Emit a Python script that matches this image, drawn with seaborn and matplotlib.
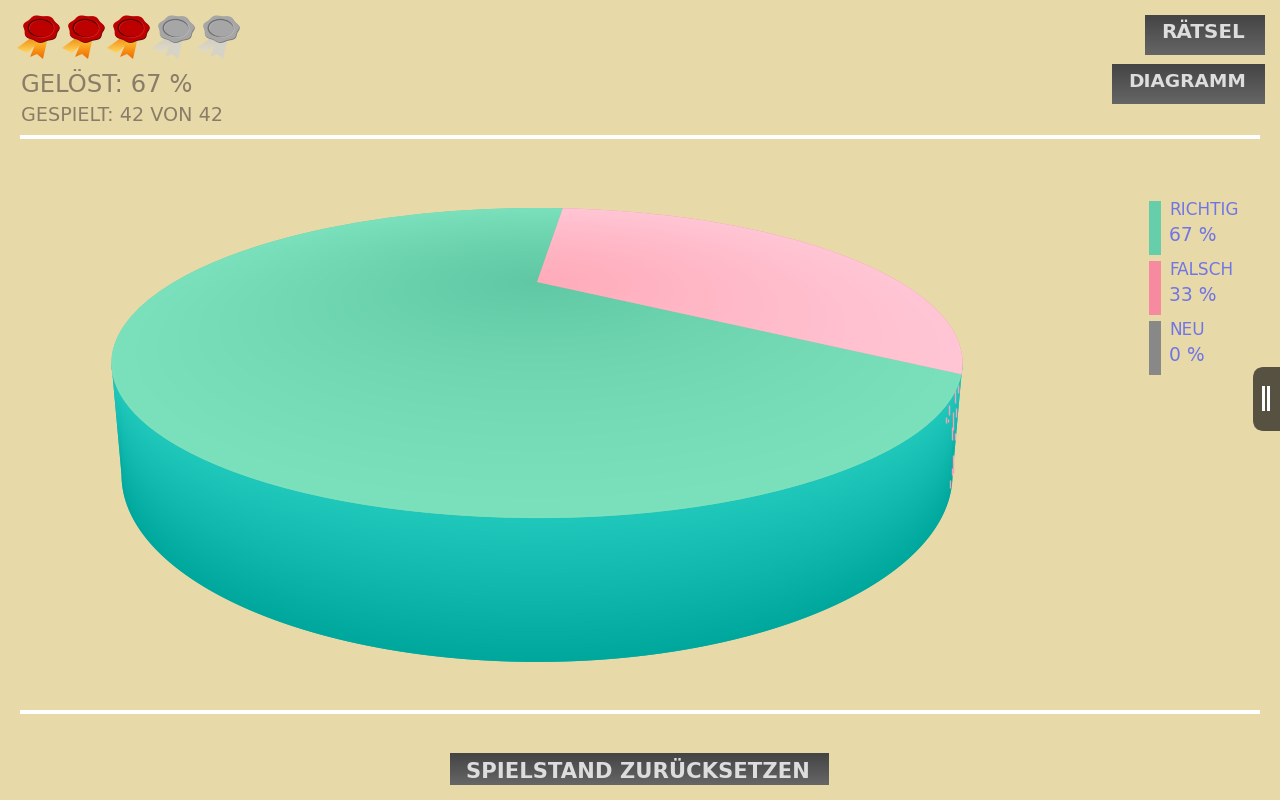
import numpy as np
import seaborn as sns
import matplotlib
matplotlib.use("Agg")
import matplotlib.pyplot as plt
from matplotlib.patches import Polygon, Rectangle, Ellipse, FancyBboxPatch
from matplotlib.transforms import Transform

# values
labels = ["Richtig", "Falsch", "Neu"]
shares = [67, 33, 0]
legend_colors = ["#66ceaa", "#f78aa0", "#888888"]
solved = 67
played = 42
total = 42
medals_total = 5
medals_won = 3
top_buttons = ["Rätsel", "Diagramm"]
reset_label = "Spielstand zurücksetzen"

BG = "#e8d9a8"
TXT = "#8a7d68"
LEG = "#6f75e6"

sns.set_theme(style="white")
plt.rcParams["font.family"] = ["DejaVu Sans"]

fig = plt.figure(figsize=(12.8, 8), dpi=100, facecolor=BG)
ax = fig.add_axes([0, 0, 1, 1])

# pie seen in strong perspective
cx = 537
tilt = 0.5226
top_plane = (66.4, 215.6, 362.8)
bottom_plane = (117.3, 260.0, 354.2)


def project(u, v, plane):
    w = 1 - tilt * v
    return cx + plane[2] * u / w, plane[0] + plane[1] / w


class Perspective(Transform):
    input_dims = 2
    output_dims = 2

    def __init__(self, plane):
        super().__init__()
        self.plane = plane

    def transform_non_affine(self, values):
        values = np.asarray(values)
        x, y = project(values[:, 0], -values[:, 1], self.plane)
        return np.column_stack([x, y])


wedges, _ = ax.pie(shares, startangle=-35.0, counterclock=False,
                   colors=legend_colors, wedgeprops={"linewidth": 0})
ax.set_aspect("auto")

# side wall
a0 = np.arcsin(tilt)
t = np.linspace(a0, np.pi - a0, 200)
bx, by = project(np.cos(t), np.sin(t), bottom_plane)
tx, ty = project(np.cos(t), np.sin(t), top_plane)
side = Polygon(np.column_stack([np.r_[bx, tx[::-1]], np.r_[by, ty[::-1]]]),
               fc="#10b5ab", lw=0, zorder=1)
ax.add_patch(side)


def gradient_fill(patch, c1, c2, y0, y1, x0=0, x1=1280, zorder=2):
    cmap = sns.blend_palette([c1, c2], as_cmap=True)
    im = ax.imshow(np.linspace(0, 1, 256).reshape(-1, 1), cmap=cmap, vmin=0, vmax=1,
                   extent=(x0, x1, y1, y0), aspect="auto", zorder=zorder)
    im.set_clip_path(patch)
    return im


# wall shade runs from the upper rim to the lower rim in each column
yy, xx = np.mgrid[0:800, 0:1280]
rim_top = np.interp(xx[0] + 0.5, tx[::-1], ty[::-1])
rim_bottom = np.interp(xx[0] + 0.5, bx[::-1], by[::-1])
wall = (yy + 0.5 - rim_top) / np.maximum(rim_bottom - rim_top, 40)
im = ax.imshow(np.clip(wall, 0, 1), cmap=sns.blend_palette(["#20c8bc", "#00a79d"], as_cmap=True),
               vmin=0, vmax=1, extent=(0, 1280, 800, 0), aspect="auto", zorder=2)
im.set_clip_path(side)

# little pink flecks where the wall meets the falsch slice
for fx, f0, f1 in [(955, 383, 403), (946, 417, 423), (948, 419, 422), (949, 405, 415),
                   (953, 412, 430), (952, 427, 440), (956, 408, 417), (958, 385, 393),
                   (953, 455, 473), (952, 468, 475), (950, 480, 488), (955, 433, 440)]:
    ax.plot([fx, fx], [f0, f1], color="#f3a3b4", lw=1, zorder=3, solid_capstyle="butt")

# top face, shade grows from the tip out to the rim
yt = np.maximum(yy + 0.5, 70)
vv = (1 - top_plane[1] / (yt - top_plane[0])) / tilt
uu = (xx + 0.5 - cx) * (1 - tilt * vv) / top_plane[2]
rr = np.clip(np.hypot(uu, vv), 0, 1)

top_colors = [("#60c8a4", "#7be1bc"), ("#ffabba", "#ffc6d5")]
for wedge, (inner, outer) in zip(wedges, top_colors):
    wedge.set_transform(Perspective(top_plane) + ax.transData)
    wedge.set_zorder(4)
    cmap = sns.blend_palette([inner, outer], as_cmap=True)
    im = ax.imshow(rr, cmap=cmap, vmin=0, vmax=1, extent=(0, 1280, 800, 0),
                   aspect="auto", zorder=5)
    im.set_clip_path(wedge)
wedges[2].set_visible(False)

# rules
for y in [136.5, 711.5]:
    ax.plot([20, 1260], [y, y], color="white", lw=2.9, solid_capstyle="butt", zorder=3)

# medals
for i in range(medals_total):
    mx = 41 + 45 * i
    won = i < medals_won
    left_c = ("#f08a10", "#ffd860") if won else ("#cfccc2", "#e2dcc4")
    right_c = ("#ffc030", "#f06a00") if won else ("#d6d3c8", "#d6d3c8")
    rib1 = Polygon([(mx - 9, 37), (mx - 24, 48), (mx - 14, 53), (mx - 2, 42)], lw=0, fc="none", zorder=6)
    rib2 = Polygon([(mx - 4, 40), (mx - 11, 57), (mx - 4, 54), (mx + 2, 59), (mx + 6, 41)], lw=0, fc="none", zorder=6)
    ax.add_patch(rib1)
    ax.add_patch(rib2)
    gradient_fill(rib1, left_c[0], left_c[1], 37, 53, zorder=6)
    gradient_fill(rib2, right_c[0], right_c[1], 40, 59, zorder=6)
    a = np.linspace(0, 2 * np.pi, 120)
    rad = 1 + 0.05 * np.cos(7 * a + 1)
    seal = np.column_stack([mx + 17.5 * rad * np.cos(a), 28.5 + 13 * rad * np.sin(a)])
    ax.add_patch(Polygon(seal + [0.5, 0.8], fc="#5a0a0a" if won else "#777777", lw=0, zorder=7))
    ax.add_patch(Polygon(seal, fc="#bd0000" if won else "#a6a6a6", lw=0, zorder=8))
    ax.add_patch(Ellipse((mx + 0.5, 28.5), 25, 17.5, fc="none", ec="#d82020" if won else "#b8b8b8", lw=1, zorder=9))
    ax.add_patch(Ellipse((mx - 0.5, 28), 24.5, 17, fc="none", ec="#5a0000" if won else "#707070", lw=1, zorder=9))
    ax.add_patch(Ellipse((mx + 1, 29), 23, 15.5, fc="#bd0000" if won else "#a6a6a6", lw=0, zorder=9))

# header text
ax.text(21, 92, f"GELÖST: {solved} %", color=TXT, fontsize=17.5, va="baseline", ha="left", zorder=10)
ax.text(21, 121, f"GESPIELT: {played} VON {total}", color=TXT, fontsize=13.8, va="baseline", ha="left", zorder=10)


def button(x0, x1, y0, y1, text, tx, ty, size):
    rect = Rectangle((x0, y0), x1 - x0, y1 - y0, fc="#555555", lw=0, zorder=6)
    ax.add_patch(rect)
    gradient_fill(rect, "#444444", "#666666", y0, y1, zorder=7)
    ax.text(tx, ty, text, color="#dddddd", fontsize=size, fontweight="bold",
            va="baseline", ha="left", zorder=8)


button(1145, 1265, 15, 55, top_buttons[0].upper(), 1161, 38, 14.3)
button(1112, 1265, 64, 104, top_buttons[1].upper(), 1128, 87, 13.3)
button(450, 829, 753, 785, reset_label.upper(), 466, 778, 15.2)

# legend
for i, (name, share, col) in enumerate(zip(labels, shares, legend_colors)):
    y0 = 201 + 60 * i
    ax.add_patch(Rectangle((1149, y0), 12, 54, fc=col, lw=0, zorder=6))
    ax.text(1169, y0 + 14, name.upper(), color=LEG, fontsize=12.2, va="baseline", ha="left", zorder=8)
    ax.text(1169, y0 + 40, f"{share} %", color=LEG, fontsize=13.5, va="baseline", ha="left", zorder=8)

# side tab with the pause mark
ax.add_patch(FancyBboxPatch((1253, 367), 45, 64, boxstyle="round,pad=0,rounding_size=11",
                            fc="#565140", lw=0, zorder=6))
for bx0 in [1262, 1267]:
    ax.add_patch(Rectangle((bx0, 386), 3, 25, fc="white", lw=0, zorder=8))

ax.set_xlim(0, 1280)
ax.set_ylim(800, 0)
ax.axis("off")
fig.savefig("out.png", dpi=100, facecolor=BG)
